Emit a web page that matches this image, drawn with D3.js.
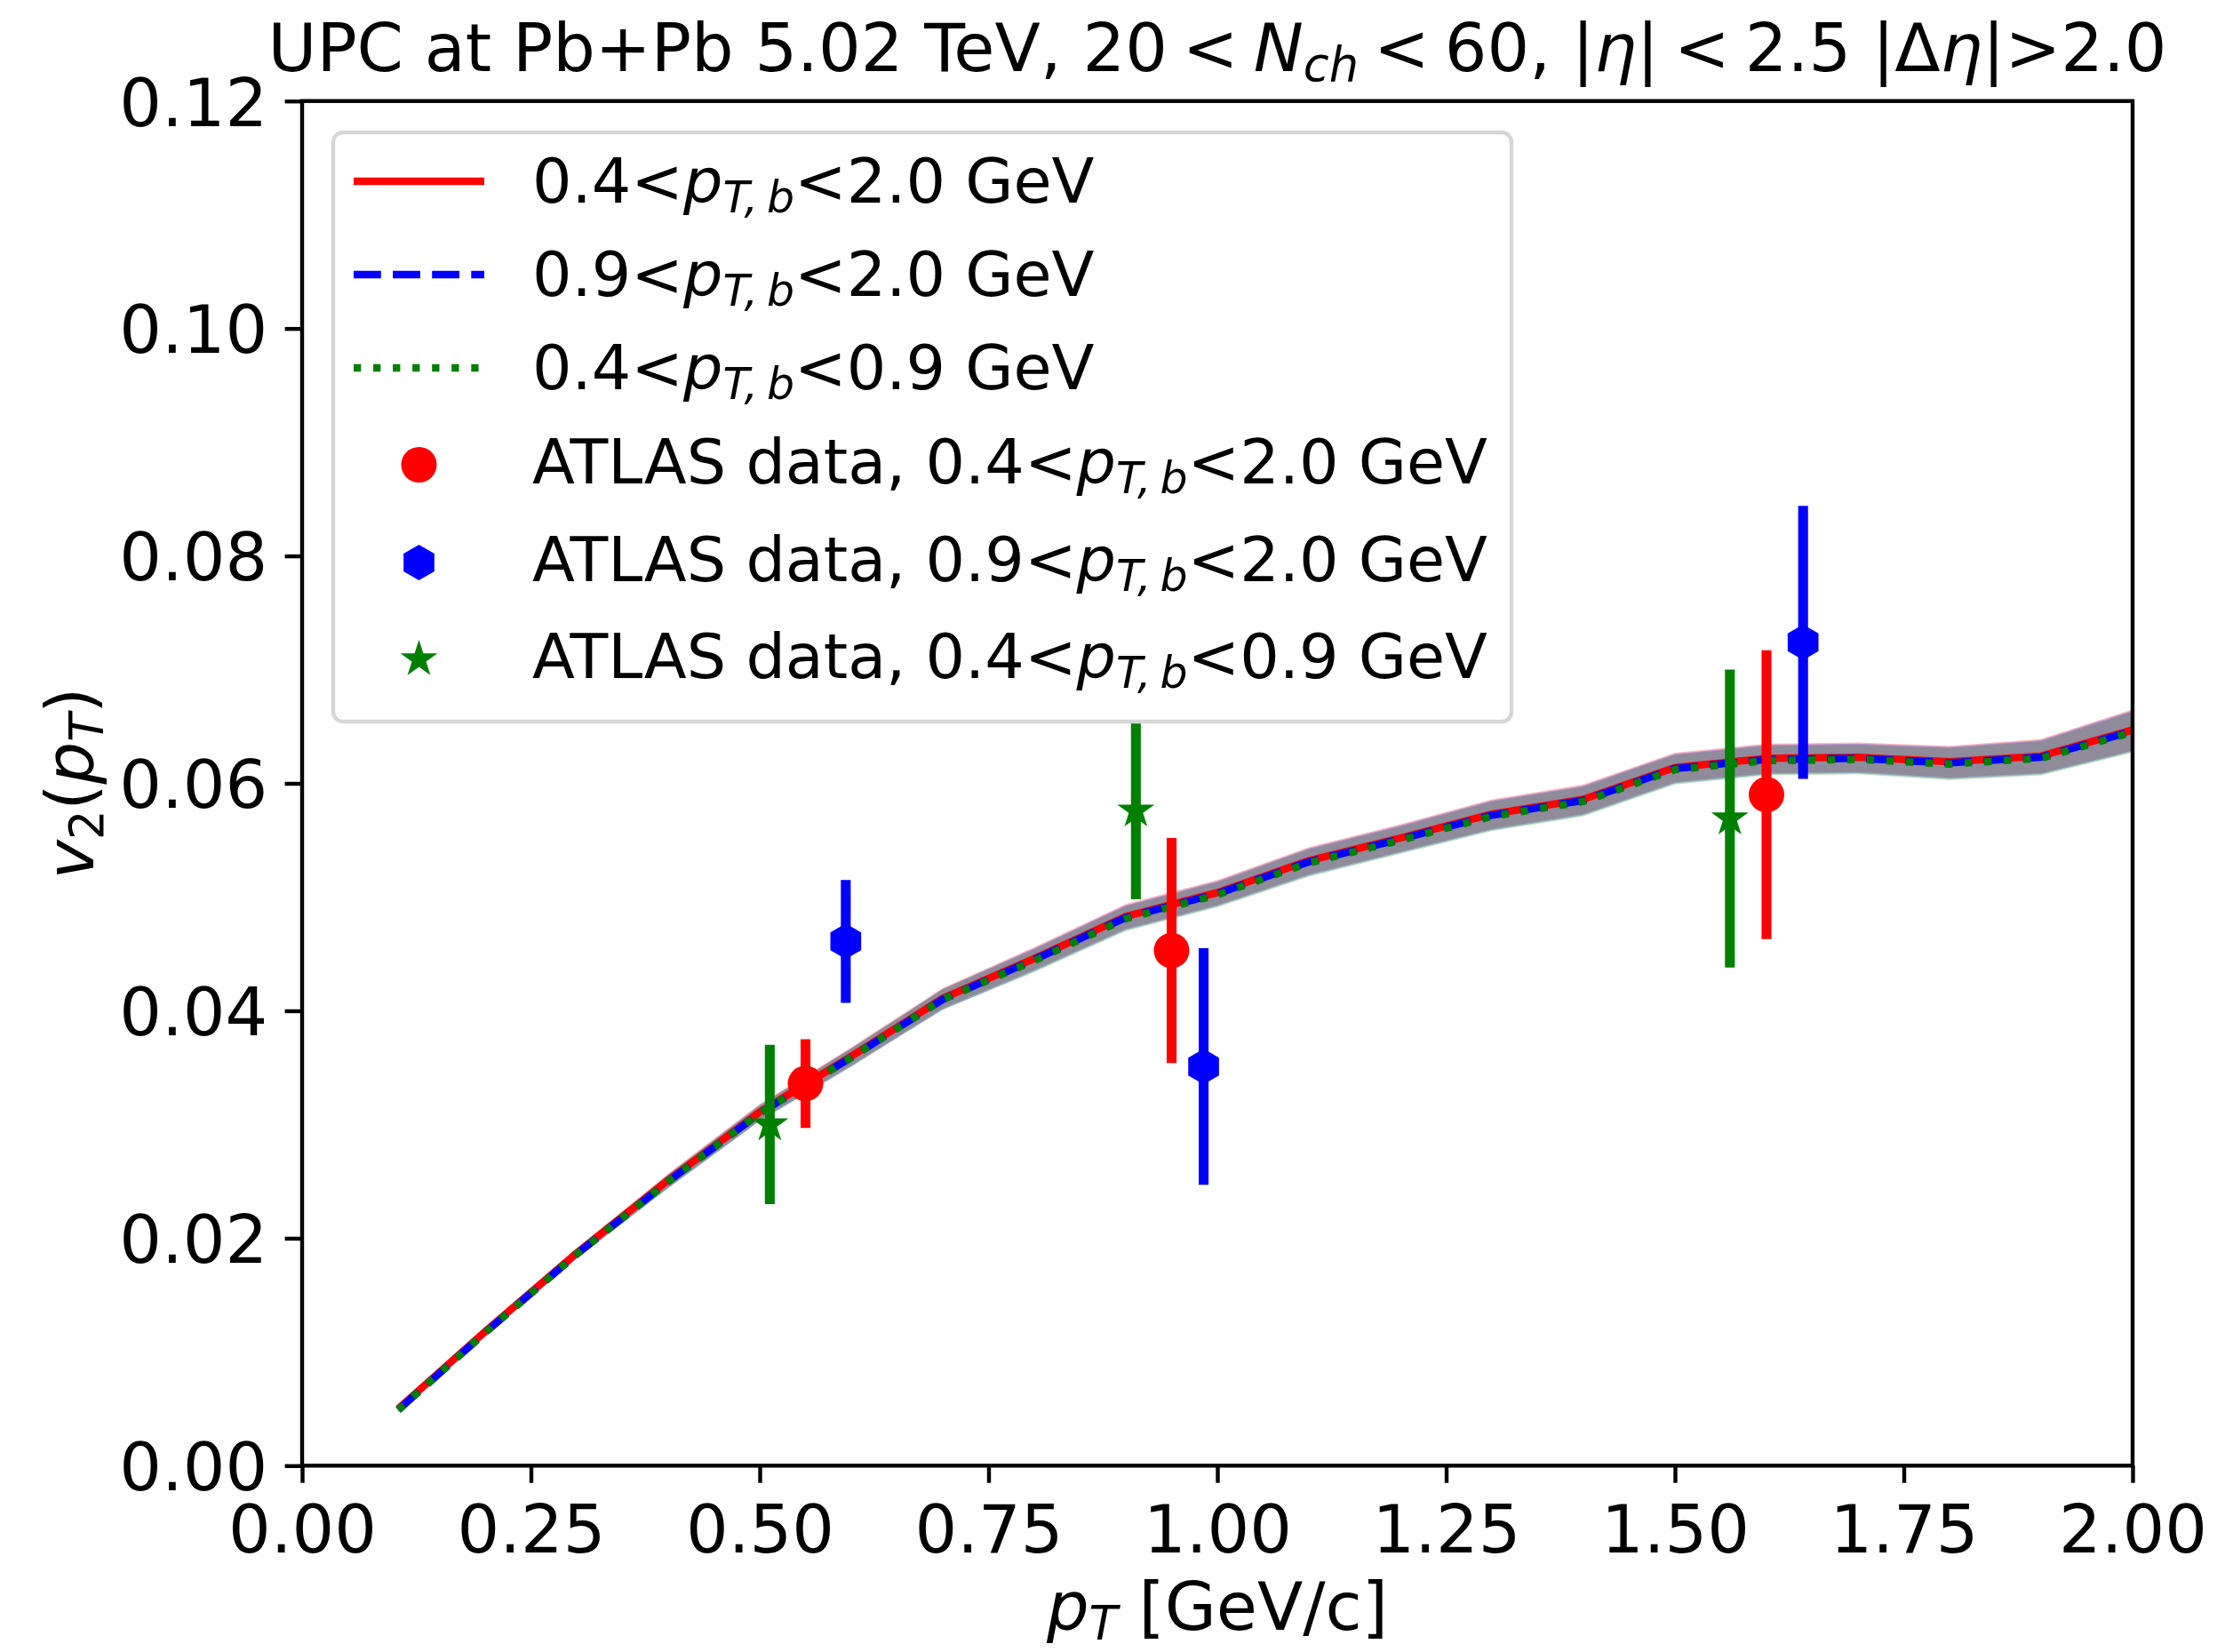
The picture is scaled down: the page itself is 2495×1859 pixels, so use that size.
<!DOCTYPE html>
<html>
<head>
<meta charset="utf-8">
<script src="https://cdn.jsdelivr.net/npm/d3@7"></script>
<style>
  body { margin: 0; background: #fff; }
  svg { display: block; font-family: "DejaVu Sans"; }
  text { white-space: pre; }
</style>
</head>
<body>
<svg id="chart" width="2495" height="1859"></svg>
<script>
// ---- data ----
const ptModel = [0.105, 0.2, 0.3, 0.4, 0.5, 0.6, 0.7, 0.8, 0.9, 1.0,
                 1.1, 1.2, 1.3, 1.4, 1.5, 1.6, 1.7, 1.8, 1.9, 2.0];
const v2ModelRed   = [0.0050, 0.0118, 0.0187, 0.0251, 0.0311, 0.0360, 0.0411, 0.0446, 0.0483, 0.0504,
                      0.0532, 0.0552, 0.0573, 0.0586, 0.0614, 0.0622, 0.0623, 0.0619, 0.0624, 0.0647];
const v2ModelBlue  = [0.0049, 0.0117, 0.0186, 0.0250, 0.0310, 0.0359, 0.0410, 0.0445, 0.0482, 0.0503,
                      0.0531, 0.0551, 0.0572, 0.0585, 0.0613, 0.0621, 0.0622, 0.0618, 0.0623, 0.0646];
const v2ModelGreen = [0.0049, 0.0117, 0.0186, 0.0250, 0.0310, 0.0359, 0.0410, 0.0444, 0.0481, 0.0502,
                      0.0530, 0.0550, 0.0571, 0.0584, 0.0612, 0.0620, 0.0621, 0.0617, 0.0622, 0.0645];
const v2ModelErr   = [0.0002, 0.0003, 0.0004, 0.0006, 0.0007, 0.0008, 0.0009, 0.0010, 0.0011, 0.0011,
                      0.0012, 0.0012, 0.0013, 0.0013, 0.0013, 0.0013, 0.0013, 0.0014, 0.0015, 0.0018];

const atlasRedPt    = [0.55, 0.95, 1.60];
const atlasRedV2    = [0.0336, 0.0453, 0.0590];
const atlasRedErr   = [0.0039, 0.0099, 0.0127];
const atlasBluePt   = [0.594, 0.985, 1.64];
const atlasBlueV2   = [0.0461, 0.0351, 0.0724];
const atlasBlueErr  = [0.0054, 0.0104, 0.0120];
const atlasGreenPt  = [0.511, 0.911, 1.56];
const atlasGreenV2  = [0.0300, 0.0576, 0.0569];
const atlasGreenErr = [0.0070, 0.0078, 0.0131];

const xTicks = [0, 0.25, 0.5, 0.75, 1.0, 1.25, 1.5, 1.75, 2.0];
const yTicks = [0, 0.02, 0.04, 0.06, 0.08, 0.10, 0.12];

const lineLabels = ['0.4<', '0.9<', '0.4<'];
const lineLabelEnds = ['<2.0 GeV', '<2.0 GeV', '<0.9 GeV'];
const dataLabels = ['ATLAS data, 0.4<', 'ATLAS data, 0.9<', 'ATLAS data, 0.4<'];

// ---- layout ----
const FS = 75;        // ticks, labels, title
const LFS = 70;       // legend
const margin = {top: 113.7, right: 95, bottom: 209.7, left: 340};
const W = 2495, H = 1859;
const width = W - margin.left - margin.right;
const height = H - margin.top - margin.bottom;

const svg = d3.select('#chart');

const x = d3.scaleLinear().domain([0, 2]).range([margin.left, margin.left + width]);
const y = d3.scaleLinear().domain([0, 0.12]).range([margin.top + height, margin.top]);

// text with italic / subscript pieces, roughly like mathtext
function richText(sel, parts, size) {
  const shift = size * 0.15;
  let down = false;
  parts.forEach(p => {
    const ts = sel.append('tspan').text(p.t);
    if (p.i) ts.attr('font-style', 'italic');
    if (p.dx) ts.attr('dx', p.dx);
    if (p.sub) {
      ts.attr('font-size', size * 0.7);
      if (!down) { ts.attr('dy', shift); down = true; }
    } else if (down) {
      ts.attr('dy', -shift); down = false;
    }
  });
  return sel;
}
const ptb = [{t: 'p', i: true}, {t: 'T,\u2009b', i: true, sub: true}];

svg.append('clipPath').attr('id', 'plot-clip')
  .append('rect')
    .attr('x', margin.left).attr('y', margin.top)
    .attr('width', width).attr('height', height);

const plotArea = svg.append('g').attr('clip-path', 'url(#plot-clip)');

// model bands + lines
const models = [
  {v: v2ModelRed, col: 'red', dash: null},
  {v: v2ModelBlue, col: 'blue', dash: '30.8,13.3'},
  {v: v2ModelGreen, col: 'green', dash: '8.3,13.75'}
];

models.forEach(m => {
  const area = d3.area()
    .x((d, i) => x(ptModel[i]))
    .y0((d, i) => y(m.v[i] - v2ModelErr[i]))
    .y1((d, i) => y(m.v[i] + v2ModelErr[i]));
  plotArea.append('path')
    .attr('d', area(ptModel))
    .attr('fill', m.col)
    .attr('fill-opacity', 0.25);
});

models.forEach(m => {
  const line = d3.line()
    .x((d, i) => x(ptModel[i]))
    .y((d, i) => y(m.v[i]));
  plotArea.append('path')
    .attr('d', line(ptModel))
    .attr('fill', 'none')
    .attr('stroke', m.col)
    .attr('stroke-width', 8.33)
    .attr('stroke-dasharray', m.dash)
    .attr('stroke-linejoin', 'round');
});

// markers
const circlePath = r => `M${r},0A${r},${r},0,1,1,${-r},0A${r},${r},0,1,1,${r},0Z`;
const hexPath = r => d3.line()(d3.range(6).map(k => {
  const a = Math.PI / 3 * k - Math.PI / 2;
  return [r * Math.cos(a), r * Math.sin(a)];
})) + 'Z';
const starPath = r => d3.line()(d3.range(10).map(k => {
  const a = Math.PI / 5 * k - Math.PI / 2;
  const rr = k % 2 ? r * 0.381966 : r;
  return [rr * Math.cos(a), rr * Math.sin(a)];
})) + 'Z';

const dataSets = [
  {pt: atlasGreenPt, v: atlasGreenV2, e: atlasGreenErr, col: 'green', shape: starPath(22)},
  {pt: atlasRedPt, v: atlasRedV2, e: atlasRedErr, col: 'red', shape: circlePath(20)},
  {pt: atlasBluePt, v: atlasBlueV2, e: atlasBlueErr, col: 'blue', shape: hexPath(20)}
];

dataSets.forEach(ds => {
  const g = plotArea.append('g');
  ds.pt.forEach((p, i) => {
    g.append('line')
      .attr('x1', x(p)).attr('x2', x(p))
      .attr('y1', y(ds.v[i] - ds.e[i])).attr('y2', y(ds.v[i] + ds.e[i]))
      .attr('stroke', ds.col)
      .attr('stroke-width', 11.1);
    g.append('path')
      .attr('d', ds.shape)
      .attr('transform', `translate(${x(p)},${y(ds.v[i])})`)
      .attr('fill', ds.col);
  });
});

// axes
const xAxisGroup = svg.append('g')
  .attr('transform', `translate(0,${margin.top + height})`)
  .call(d3.axisBottom(x).tickValues(xTicks).tickFormat(d3.format('.2f'))
    .tickSize(19.4).tickSizeOuter(0).tickPadding(25.1));
const yAxisGroup = svg.append('g')
  .attr('transform', `translate(${margin.left},0)`)
  .call(d3.axisLeft(y).tickValues(yTicks).tickFormat(d3.format('.2f'))
    .tickSize(19.4).tickSizeOuter(0).tickPadding(19.4));

[xAxisGroup, yAxisGroup].forEach(g => {
  g.attr('font-size', FS).attr('font-family', 'DejaVu Sans');
  g.select('.domain').remove();
  g.selectAll('.tick line').attr('stroke', '#000').attr('stroke-width', 4.4);
  g.selectAll('.tick text').attr('fill', '#000');
});
yAxisGroup.selectAll('.tick text').attr('dy', '0.364em');

svg.append('rect')
  .attr('x', margin.left).attr('y', margin.top)
  .attr('width', width).attr('height', height)
  .attr('fill', 'none')
  .attr('stroke', '#000')
  .attr('stroke-width', 4.4);

// titles
const rel = 17;   // mathtext spacing around relations
richText(svg.append('text')
    .attr('x', margin.left + width / 2).attr('y', 80)
    .attr('text-anchor', 'middle').attr('font-size', FS),
  [{t: 'UPC at Pb+Pb 5.02 TeV, 20'}, {t: '<', dx: rel}, {t: 'N', i: true, dx: rel},
   {t: 'ch', i: true, sub: true}, {t: '<', dx: rel}, {t: '60, |', dx: rel},
   {t: '\u03b7', i: true}, {t: '|'}, {t: '<', dx: rel}, {t: '2.5 |\u0394', dx: rel},
   {t: '\u03b7', i: true}, {t: '|>2.0'}], FS);

richText(svg.append('text')
    .attr('x', margin.left + width / 2).attr('y', 1834)
    .attr('text-anchor', 'middle').attr('font-size', FS),
  [{t: 'p', i: true}, {t: 'T', i: true, sub: true}, {t: ' [GeV/c]'}], FS);

richText(svg.append('text')
    .attr('transform', `translate(105,${margin.top + height / 2}) rotate(-90)`)
    .attr('text-anchor', 'middle').attr('font-size', FS),
  [{t: 'v', i: true}, {t: '2', sub: true}, {t: '('}, {t: 'p', i: true}, {t: 'T', i: true, sub: true}, {t: ')'}], FS);

// legend
const legend = svg.append('g');
legend.append('rect')
  .attr('x', 375).attr('y', 149)
  .attr('width', 1326).attr('height', 663)
  .attr('rx', 11)
  .attr('fill', '#fff').attr('fill-opacity', 0.8)
  .attr('stroke', '#d6d6d6').attr('stroke-width', 4.4);

const rowY = [204, 309, 414, 523, 633, 742];
const handleX0 = 398, handleX1 = 545, textX = 599;

models.forEach((m, i) => {
  legend.append('line')
    .attr('x1', handleX0).attr('x2', handleX1)
    .attr('y1', rowY[i]).attr('y2', rowY[i])
    .attr('stroke', m.col).attr('stroke-width', 8.33)
    .attr('stroke-dasharray', m.dash);
  richText(legend.append('text')
      .attr('x', textX).attr('y', rowY[i] + 24).attr('font-size', LFS),
    [{t: lineLabels[i]}, ...ptb, {t: lineLabelEnds[i]}], LFS);
});

const legendData = [dataSets[1], dataSets[2], dataSets[0]];
legendData.forEach((ds, i) => {
  const yy = rowY[i + 3];
  legend.append('path')
    .attr('d', ds.shape)
    .attr('transform', `translate(${(handleX0 + handleX1) / 2},${yy})`)
    .attr('fill', ds.col);
  richText(legend.append('text')
      .attr('x', textX).attr('y', yy + 21).attr('font-size', LFS),
    [{t: dataLabels[i]}, ...ptb, {t: lineLabelEnds[i]}], LFS);
});
</script>
</body>
</html>
